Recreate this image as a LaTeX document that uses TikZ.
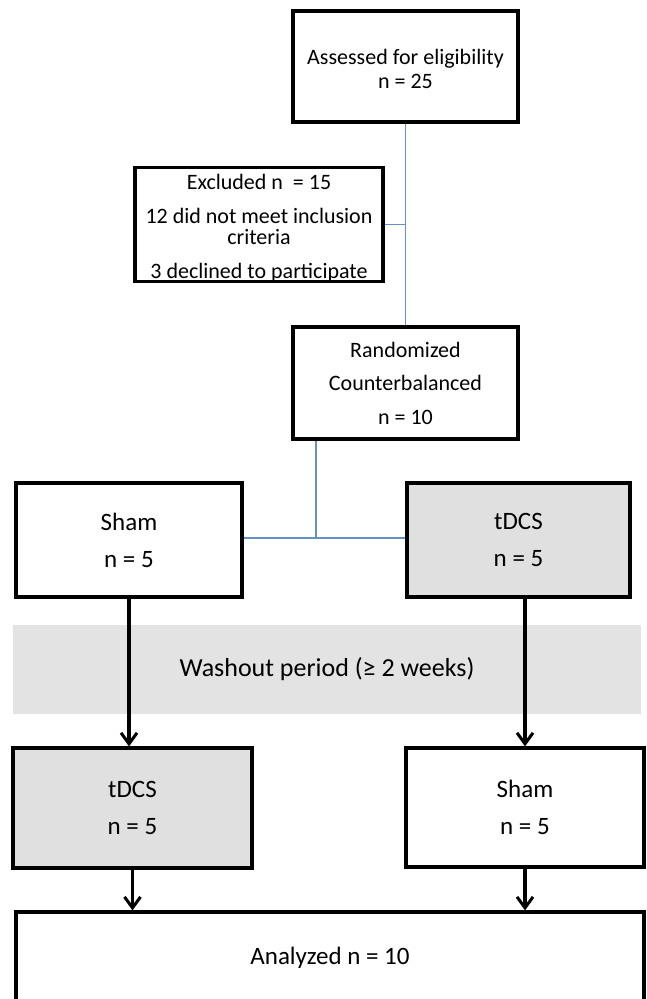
\documentclass[tikz,border=0pt]{standalone}
\usepackage{fontspec}
\setmainfont{Carlito}
\usepackage{tikz}
\usetikzlibrary{
    calc,
    positioning,
    arrows.meta
}
\definecolor{boxgray}{RGB}{224,224,224}
\definecolor{bandgray}{RGB}{227,227,227}
\definecolor{linkblue}{RGB}{100,145,200}

\begin{document}
\begin{tikzpicture}[x=1pt,y=-1pt]
      % Fix the page to the size of the reference
      \useasboundingbox (0,0) rectangle (647,999);

      % Define box and line styles:
      \tikzset{
            flowbox/.style={draw, line width=3.2pt, inner sep=0pt, align=center, fill=white},
            grayflow/.style={flowbox, fill=boxgray},
            lower/.style={font=\fontsize{25}{37}\selectfont},
            link/.style={linkblue, line width=1.8pt},
            cross/.style={-{Straight Barb[length=11pt, width=16pt, line width=3pt]}, line width=3.2pt}
      };

      % Washout band behind the arrows
      \node[fill=bandgray, minimum width=628pt, minimum height=89pt, font=\fontsize{26}{30}\selectfont] (washout) at (327,669.5) {\raisebox{-4pt}{Washout period (≥ 2 weeks)}};

      % Enrolment part
      \node[flowbox, font=\fontsize{22}{24}\selectfont, minimum width=225pt, minimum height=111pt] (assess) at (405.5,66.5)
            {\rule{0pt}{20pt}Assessed for eligibility\\n = 25};
      \node[flowbox, font=\fontsize{22}{21}\selectfont, minimum width=248pt, minimum height=113pt] (excluded) at (259,224.5)
            {\rule{0pt}{22pt}Excluded n \ = 15\\[13pt]12 did not meet inclusion\\criteria\\[13pt]3 declined to participate};
      \node[flowbox, font=\fontsize{22}{33.5}\selectfont, minimum width=225pt, minimum height=112pt] (random) at (405.5,383)
            {Randomized\\Counterbalanced\\n = 10};

      % First session
      \node[flowbox, lower, minimum width=226pt, minimum height=114pt] (sham1) at (129,540) {Sham\\n = 5};
      \node[grayflow, lower, minimum width=223pt, minimum height=114pt] (tdcs1) at (518.5,540) {tDCS\\n = 5};

      % Second session
      \node[grayflow, lower, minimum width=239pt, minimum height=120pt] (tdcs2) at (132.5,808) {tDCS\\n = 5};
      \node[flowbox, lower, minimum width=238pt, minimum height=119pt] (sham2) at (525,807.5) {Sham\\n = 5};

      % Analysis (bottom edge runs off the page)
      \node[flowbox, lower, minimum width=628pt, minimum height=92pt] (analyzed) at (330,958) {\raisebox{-4pt}{Analyzed n = 10}};

      % Blue links between enrolment boxes
      \coordinate (split) at (316,538);
      \draw[link] (assess.south) -- (random.north);
      \draw[link] (excluded.east) -- (excluded.east -| assess.south);
      \draw[link] (split |- random.south) -- (split);
      \draw[link] (sham1.east |- split) -- (tdcs1.west |- split);

      % Crossover arrows
      \draw[cross] (sham1.south) -- (sham1.south |- tdcs2.north);
      \draw[cross] (sham2.north |- tdcs1.south) -- (sham2.north);
      \draw[cross] (tdcs2.south) -- (tdcs2.south |- analyzed.north);
      \draw[cross] (sham2.south) -- (sham2.south |- analyzed.north);
\end{tikzpicture}
\end{document}
